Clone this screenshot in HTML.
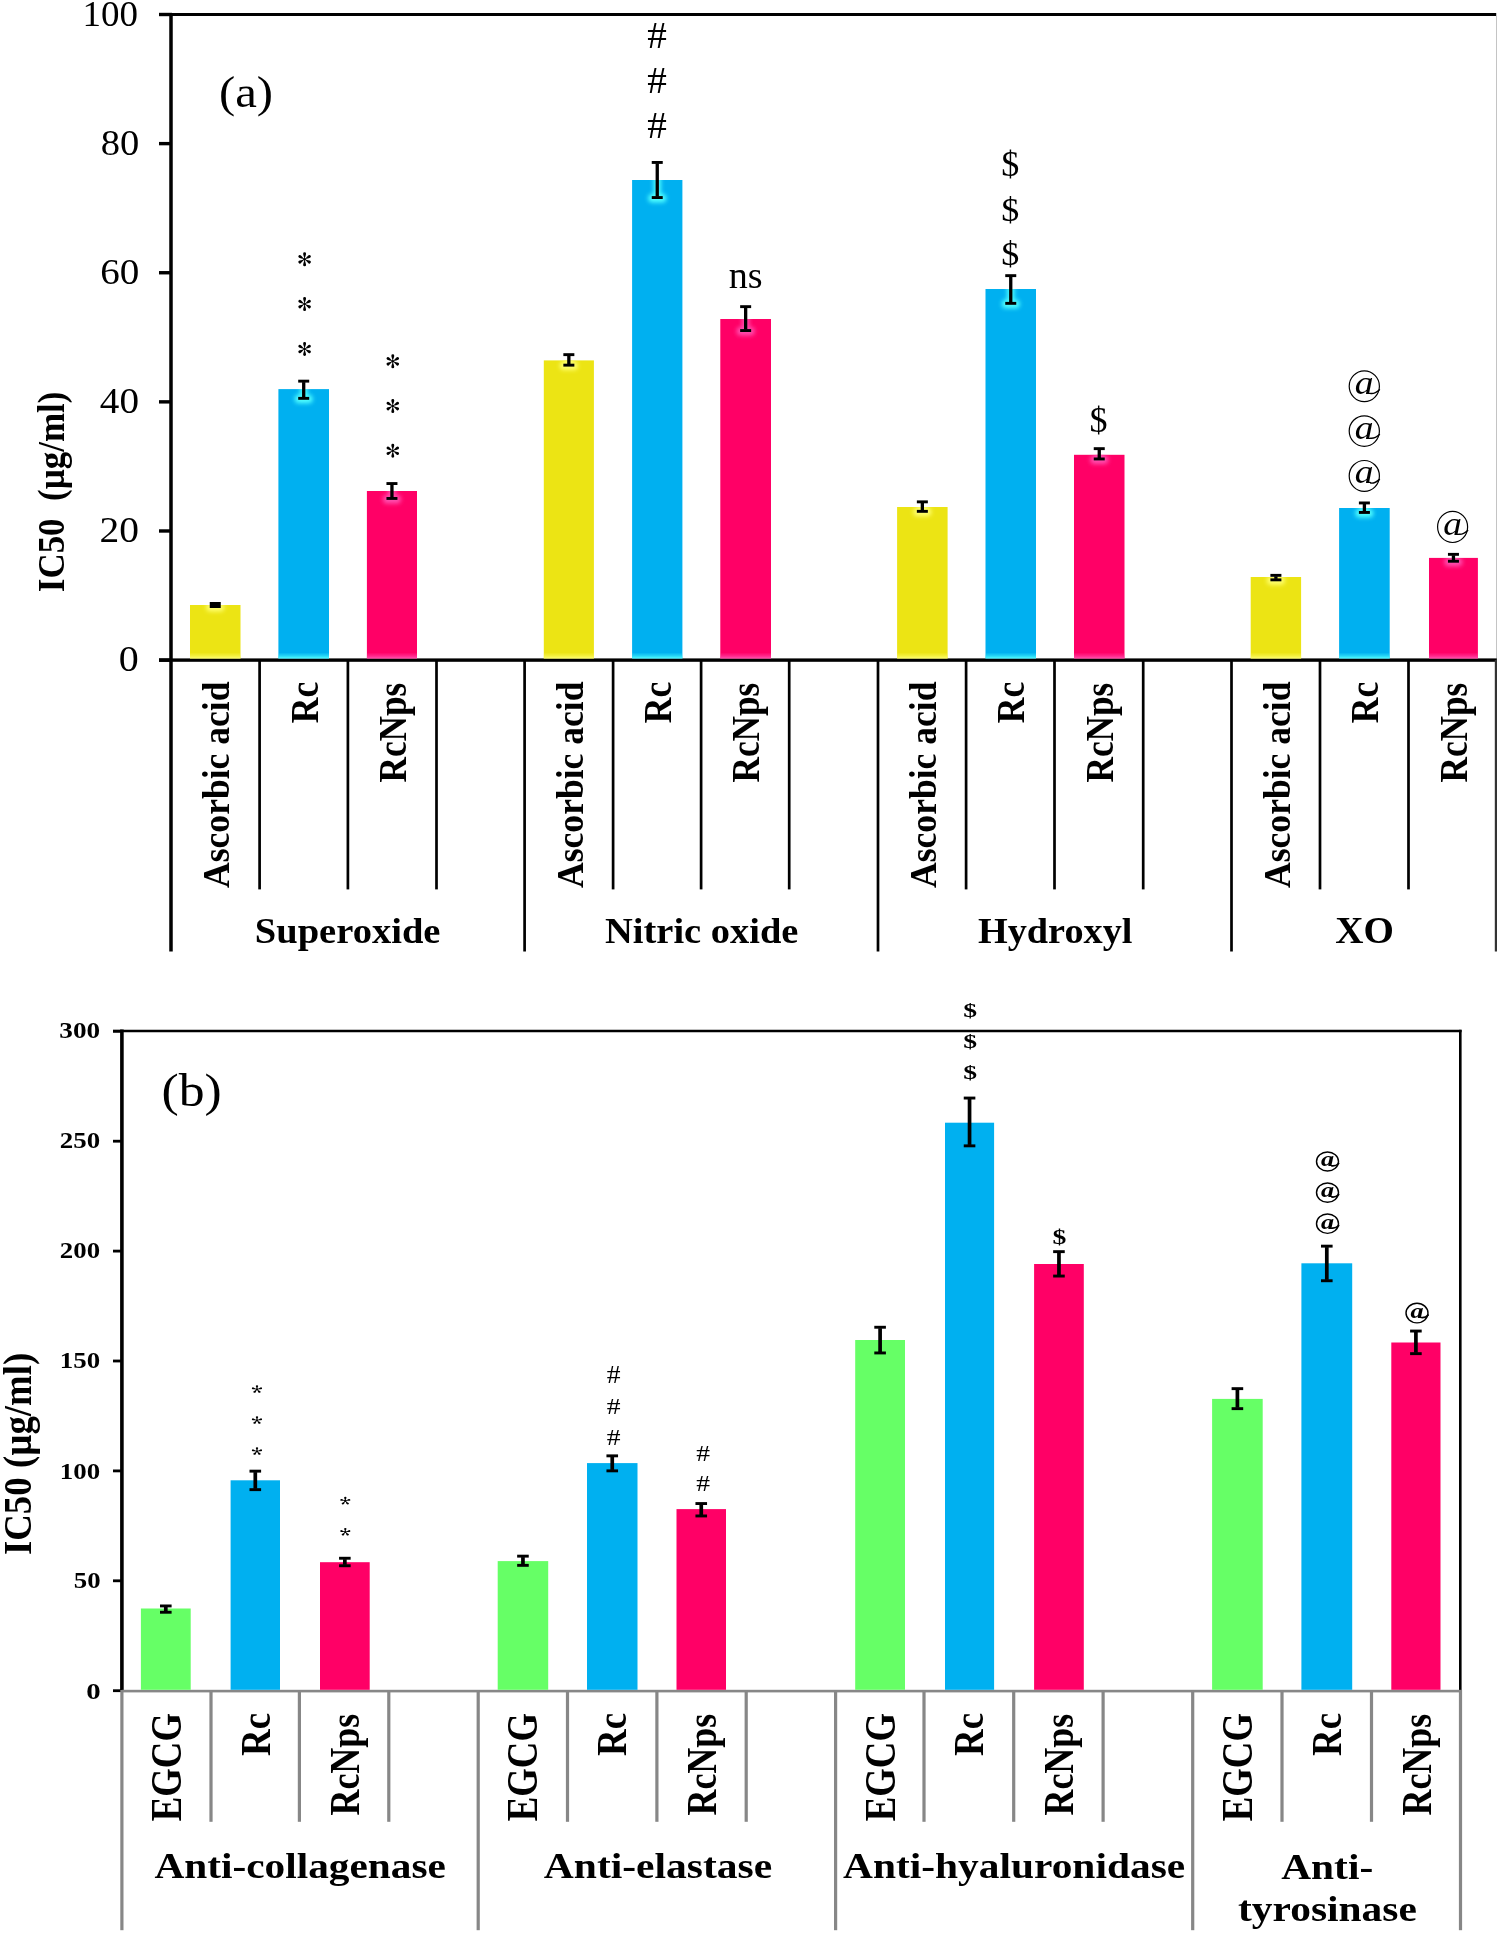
<!DOCTYPE html>
<html><head><meta charset="utf-8"><title>IC50 bar charts</title>
<style>
html,body{margin:0;padding:0;background:#fff;}
svg{display:block;will-change:transform;}
text{font-family:"Liberation Serif", serif;}
</style></head>
<body>
<svg width="1499" height="1934" viewBox="0 0 1499 1934">
<defs><filter id="gl" x="-50%" y="-50%" width="200%" height="200%"><feGaussianBlur stdDeviation="2.1"/></filter><linearGradient id="bg0" x1="0" y1="0" x2="0" y2="1"><stop offset="0" stop-color="#FFFF70" stop-opacity="0"/><stop offset="0.6" stop-color="#FFFF70" stop-opacity="0.5"/><stop offset="1" stop-color="#FFFF70" stop-opacity="1"/></linearGradient><clipPath id="cb0"><rect x="190.00" y="605.00" width="50.50" height="53.40"/></clipPath><linearGradient id="bg1" x1="0" y1="0" x2="0" y2="1"><stop offset="0" stop-color="#50FFFF" stop-opacity="0"/><stop offset="0.6" stop-color="#50FFFF" stop-opacity="0.5"/><stop offset="1" stop-color="#50FFFF" stop-opacity="1"/></linearGradient><clipPath id="cb1"><rect x="278.40" y="389.10" width="50.60" height="269.30"/></clipPath><linearGradient id="bg2" x1="0" y1="0" x2="0" y2="1"><stop offset="0" stop-color="#FF50B0" stop-opacity="0"/><stop offset="0.6" stop-color="#FF50B0" stop-opacity="0.5"/><stop offset="1" stop-color="#FF50B0" stop-opacity="1"/></linearGradient><clipPath id="cb2"><rect x="366.90" y="491.00" width="50.10" height="167.40"/></clipPath><linearGradient id="bg3" x1="0" y1="0" x2="0" y2="1"><stop offset="0" stop-color="#FFFF70" stop-opacity="0"/><stop offset="0.6" stop-color="#FFFF70" stop-opacity="0.5"/><stop offset="1" stop-color="#FFFF70" stop-opacity="1"/></linearGradient><clipPath id="cb3"><rect x="543.80" y="360.40" width="50.10" height="298.00"/></clipPath><linearGradient id="bg4" x1="0" y1="0" x2="0" y2="1"><stop offset="0" stop-color="#50FFFF" stop-opacity="0"/><stop offset="0.6" stop-color="#50FFFF" stop-opacity="0.5"/><stop offset="1" stop-color="#50FFFF" stop-opacity="1"/></linearGradient><clipPath id="cb4"><rect x="632.10" y="180.00" width="50.30" height="478.40"/></clipPath><linearGradient id="bg5" x1="0" y1="0" x2="0" y2="1"><stop offset="0" stop-color="#FF50B0" stop-opacity="0"/><stop offset="0.6" stop-color="#FF50B0" stop-opacity="0.5"/><stop offset="1" stop-color="#FF50B0" stop-opacity="1"/></linearGradient><clipPath id="cb5"><rect x="720.30" y="319.00" width="50.70" height="339.40"/></clipPath><linearGradient id="bg6" x1="0" y1="0" x2="0" y2="1"><stop offset="0" stop-color="#FFFF70" stop-opacity="0"/><stop offset="0.6" stop-color="#FFFF70" stop-opacity="0.5"/><stop offset="1" stop-color="#FFFF70" stop-opacity="1"/></linearGradient><clipPath id="cb6"><rect x="897.10" y="507.00" width="50.50" height="151.40"/></clipPath><linearGradient id="bg7" x1="0" y1="0" x2="0" y2="1"><stop offset="0" stop-color="#50FFFF" stop-opacity="0"/><stop offset="0.6" stop-color="#50FFFF" stop-opacity="0.5"/><stop offset="1" stop-color="#50FFFF" stop-opacity="1"/></linearGradient><clipPath id="cb7"><rect x="985.50" y="289.00" width="50.50" height="369.40"/></clipPath><linearGradient id="bg8" x1="0" y1="0" x2="0" y2="1"><stop offset="0" stop-color="#FF50B0" stop-opacity="0"/><stop offset="0.6" stop-color="#FF50B0" stop-opacity="0.5"/><stop offset="1" stop-color="#FF50B0" stop-opacity="1"/></linearGradient><clipPath id="cb8"><rect x="1074.00" y="454.80" width="50.50" height="203.60"/></clipPath><linearGradient id="bg9" x1="0" y1="0" x2="0" y2="1"><stop offset="0" stop-color="#FFFF70" stop-opacity="0"/><stop offset="0.6" stop-color="#FFFF70" stop-opacity="0.5"/><stop offset="1" stop-color="#FFFF70" stop-opacity="1"/></linearGradient><clipPath id="cb9"><rect x="1250.70" y="577.00" width="50.40" height="81.40"/></clipPath><linearGradient id="bg10" x1="0" y1="0" x2="0" y2="1"><stop offset="0" stop-color="#50FFFF" stop-opacity="0"/><stop offset="0.6" stop-color="#50FFFF" stop-opacity="0.5"/><stop offset="1" stop-color="#50FFFF" stop-opacity="1"/></linearGradient><clipPath id="cb10"><rect x="1339.10" y="508.00" width="50.60" height="150.40"/></clipPath><linearGradient id="bg11" x1="0" y1="0" x2="0" y2="1"><stop offset="0" stop-color="#FF50B0" stop-opacity="0"/><stop offset="0.6" stop-color="#FF50B0" stop-opacity="0.5"/><stop offset="1" stop-color="#FF50B0" stop-opacity="1"/></linearGradient><clipPath id="cb11"><rect x="1429.00" y="557.90" width="48.90" height="100.50"/></clipPath></defs>
<rect x="0" y="0" width="1499" height="1934" fill="#fff"/>
<rect x="159.00" y="13.00" width="1338.00" height="3.00" fill="#000"/>
<rect x="1496.00" y="13.00" width="1.00" height="647.00" fill="#c4c4c4"/>
<rect x="159.00" y="658.40" width="13.00" height="3.40" fill="#000"/>
<rect x="159.00" y="529.28" width="13.00" height="3.40" fill="#000"/>
<rect x="159.00" y="400.16" width="13.00" height="3.40" fill="#000"/>
<rect x="159.00" y="271.04" width="13.00" height="3.40" fill="#000"/>
<rect x="159.00" y="141.92" width="13.00" height="3.40" fill="#000"/>
<rect x="159.00" y="12.80" width="13.00" height="3.40" fill="#000"/>
<rect x="159.00" y="658.40" width="1337.80" height="3.40" fill="#000"/>
<rect x="169.25" y="13.00" width="3.50" height="938.50" fill="#000"/>
<rect x="258.25" y="660.00" width="2.70" height="229.40" fill="#000"/>
<rect x="346.55" y="660.00" width="2.70" height="229.40" fill="#000"/>
<rect x="435.15" y="660.00" width="2.70" height="229.40" fill="#000"/>
<rect x="523.25" y="660.00" width="2.70" height="291.50" fill="#000"/>
<rect x="611.75" y="660.00" width="2.70" height="229.40" fill="#000"/>
<rect x="699.75" y="660.00" width="2.70" height="229.40" fill="#000"/>
<rect x="787.85" y="660.00" width="2.70" height="229.40" fill="#000"/>
<rect x="876.65" y="660.00" width="2.70" height="291.50" fill="#000"/>
<rect x="964.75" y="660.00" width="2.70" height="229.40" fill="#000"/>
<rect x="1053.15" y="660.00" width="2.70" height="229.40" fill="#000"/>
<rect x="1141.85" y="660.00" width="2.70" height="229.40" fill="#000"/>
<rect x="1230.15" y="660.00" width="2.70" height="291.50" fill="#000"/>
<rect x="1318.65" y="660.00" width="2.70" height="229.40" fill="#000"/>
<rect x="1407.15" y="660.00" width="2.70" height="229.40" fill="#000"/>
<rect x="1494.80" y="660.00" width="2.20" height="291.50" fill="#333"/>
<rect x="190.00" y="605.00" width="50.50" height="53.40" fill="#ECE414"/>
<rect x="190.00" y="652.50" width="50.50" height="5.90" fill="url(#bg0)"/>
<g clip-path="url(#cb0)"><g filter="url(#gl)" fill="#FFFF70"><rect x="211.65" y="602.00" width="7.2" height="6.00"/><rect x="206.25" y="603.00" width="18" height="8.5" rx="4"/></g></g>
<rect x="278.40" y="389.10" width="50.60" height="269.30" fill="#00B0F0"/>
<rect x="278.40" y="652.50" width="50.60" height="5.90" fill="url(#bg1)"/>
<g clip-path="url(#cb1)"><g filter="url(#gl)" fill="#50FFFF"><rect x="300.10" y="379.70" width="7.2" height="20.10"/><rect x="294.70" y="394.80" width="18" height="8.5" rx="4"/></g></g>
<rect x="366.90" y="491.00" width="50.10" height="167.40" fill="#FF0066"/>
<rect x="366.90" y="652.50" width="50.10" height="5.90" fill="url(#bg2)"/>
<g clip-path="url(#cb2)"><g filter="url(#gl)" fill="#FF50B0"><rect x="388.35" y="482.10" width="7.2" height="17.80"/><rect x="382.95" y="494.90" width="18" height="8.5" rx="4"/></g></g>
<rect x="543.80" y="360.40" width="50.10" height="298.00" fill="#ECE414"/>
<rect x="543.80" y="652.50" width="50.10" height="5.90" fill="url(#bg3)"/>
<g clip-path="url(#cb3)"><g filter="url(#gl)" fill="#FFFF70"><rect x="565.25" y="353.20" width="7.2" height="13.40"/><rect x="559.85" y="361.60" width="18" height="8.5" rx="4"/></g></g>
<rect x="632.10" y="180.00" width="50.30" height="478.40" fill="#00B0F0"/>
<rect x="632.10" y="652.50" width="50.30" height="5.90" fill="url(#bg4)"/>
<g clip-path="url(#cb4)"><g filter="url(#gl)" fill="#50FFFF"><rect x="653.65" y="161.00" width="7.2" height="38.00"/><rect x="648.25" y="194.00" width="18" height="8.5" rx="4"/></g></g>
<rect x="720.30" y="319.00" width="50.70" height="339.40" fill="#FF0066"/>
<rect x="720.30" y="652.50" width="50.70" height="5.90" fill="url(#bg5)"/>
<g clip-path="url(#cb5)"><g filter="url(#gl)" fill="#FF50B0"><rect x="742.05" y="305.20" width="7.2" height="26.80"/><rect x="736.65" y="327.00" width="18" height="8.5" rx="4"/></g></g>
<rect x="897.10" y="507.00" width="50.50" height="151.40" fill="#ECE414"/>
<rect x="897.10" y="652.50" width="50.50" height="5.90" fill="url(#bg6)"/>
<g clip-path="url(#cb6)"><g filter="url(#gl)" fill="#FFFF70"><rect x="918.75" y="500.40" width="7.2" height="12.40"/><rect x="913.35" y="507.80" width="18" height="8.5" rx="4"/></g></g>
<rect x="985.50" y="289.00" width="50.50" height="369.40" fill="#00B0F0"/>
<rect x="985.50" y="652.50" width="50.50" height="5.90" fill="url(#bg7)"/>
<g clip-path="url(#cb7)"><g filter="url(#gl)" fill="#50FFFF"><rect x="1007.15" y="274.20" width="7.2" height="30.60"/><rect x="1001.75" y="299.80" width="18" height="8.5" rx="4"/></g></g>
<rect x="1074.00" y="454.80" width="50.50" height="203.60" fill="#FF0066"/>
<rect x="1074.00" y="652.50" width="50.50" height="5.90" fill="url(#bg8)"/>
<g clip-path="url(#cb8)"><g filter="url(#gl)" fill="#FF50B0"><rect x="1095.65" y="447.20" width="7.2" height="13.20"/><rect x="1090.25" y="455.40" width="18" height="8.5" rx="4"/></g></g>
<rect x="1250.70" y="577.00" width="50.40" height="81.40" fill="#ECE414"/>
<rect x="1250.70" y="652.50" width="50.40" height="5.90" fill="url(#bg9)"/>
<g clip-path="url(#cb9)"><g filter="url(#gl)" fill="#FFFF70"><rect x="1272.30" y="573.90" width="7.2" height="7.40"/><rect x="1266.90" y="576.30" width="18" height="8.5" rx="4"/></g></g>
<rect x="1339.10" y="508.00" width="50.60" height="150.40" fill="#00B0F0"/>
<rect x="1339.10" y="652.50" width="50.60" height="5.90" fill="url(#bg10)"/>
<g clip-path="url(#cb10)"><g filter="url(#gl)" fill="#50FFFF"><rect x="1360.80" y="501.50" width="7.2" height="12.40"/><rect x="1355.40" y="508.90" width="18" height="8.5" rx="4"/></g></g>
<rect x="1429.00" y="557.90" width="48.90" height="100.50" fill="#FF0066"/>
<rect x="1429.00" y="652.50" width="48.90" height="5.90" fill="url(#bg11)"/>
<g clip-path="url(#cb11)"><g filter="url(#gl)" fill="#FF50B0"><rect x="1449.85" y="552.90" width="7.2" height="9.80"/><rect x="1444.45" y="557.70" width="18" height="8.5" rx="4"/></g></g>
<rect x="209.75" y="602.00" width="11.00" height="6.00" fill="#000"/>
<rect x="298.20" y="379.70" width="11.00" height="2.90" fill="#000"/>
<rect x="298.20" y="396.90" width="11.00" height="2.90" fill="#000"/>
<rect x="302.05" y="382.10" width="3.30" height="15.30" fill="#000"/>
<rect x="386.45" y="482.10" width="11.00" height="2.90" fill="#000"/>
<rect x="386.45" y="497.00" width="11.00" height="2.90" fill="#000"/>
<rect x="390.30" y="484.50" width="3.30" height="13.00" fill="#000"/>
<rect x="563.35" y="353.20" width="11.00" height="2.90" fill="#000"/>
<rect x="563.35" y="363.70" width="11.00" height="2.90" fill="#000"/>
<rect x="567.20" y="355.60" width="3.30" height="8.60" fill="#000"/>
<rect x="651.75" y="161.00" width="11.00" height="2.90" fill="#000"/>
<rect x="651.75" y="196.10" width="11.00" height="2.90" fill="#000"/>
<rect x="655.60" y="163.40" width="3.30" height="33.20" fill="#000"/>
<rect x="740.15" y="305.20" width="11.00" height="2.90" fill="#000"/>
<rect x="740.15" y="329.10" width="11.00" height="2.90" fill="#000"/>
<rect x="744.00" y="307.60" width="3.30" height="22.00" fill="#000"/>
<rect x="916.85" y="500.40" width="11.00" height="2.90" fill="#000"/>
<rect x="916.85" y="509.90" width="11.00" height="2.90" fill="#000"/>
<rect x="920.70" y="502.80" width="3.30" height="7.60" fill="#000"/>
<rect x="1005.25" y="274.20" width="11.00" height="2.90" fill="#000"/>
<rect x="1005.25" y="301.90" width="11.00" height="2.90" fill="#000"/>
<rect x="1009.10" y="276.60" width="3.30" height="25.80" fill="#000"/>
<rect x="1093.75" y="447.20" width="11.00" height="2.90" fill="#000"/>
<rect x="1093.75" y="457.50" width="11.00" height="2.90" fill="#000"/>
<rect x="1097.60" y="449.60" width="3.30" height="8.40" fill="#000"/>
<rect x="1270.40" y="573.90" width="11.00" height="2.90" fill="#000"/>
<rect x="1270.40" y="578.40" width="11.00" height="2.90" fill="#000"/>
<rect x="1274.25" y="576.30" width="3.30" height="2.60" fill="#000"/>
<rect x="1358.90" y="501.50" width="11.00" height="2.90" fill="#000"/>
<rect x="1358.90" y="511.00" width="11.00" height="2.90" fill="#000"/>
<rect x="1362.75" y="503.90" width="3.30" height="7.60" fill="#000"/>
<rect x="1447.95" y="552.90" width="11.00" height="2.90" fill="#000"/>
<rect x="1447.95" y="559.80" width="11.00" height="2.90" fill="#000"/>
<rect x="1451.80" y="555.30" width="3.30" height="5.00" fill="#000"/>
<rect x="113.00" y="1029.75" width="1348.60" height="2.50" fill="#000"/>
<rect x="1459.00" y="1029.80" width="2.60" height="661.20" fill="#000"/>
<rect x="120.10" y="1029.50" width="3.60" height="661.00" fill="#000"/>
<rect x="113.00" y="1689.30" width="9.00" height="2.80" fill="#000"/>
<rect x="113.00" y="1579.40" width="9.00" height="2.80" fill="#000"/>
<rect x="113.00" y="1469.50" width="9.00" height="2.80" fill="#000"/>
<rect x="113.00" y="1359.60" width="9.00" height="2.80" fill="#000"/>
<rect x="113.00" y="1249.70" width="9.00" height="2.80" fill="#000"/>
<rect x="113.00" y="1139.80" width="9.00" height="2.80" fill="#000"/>
<rect x="113.00" y="1029.90" width="9.00" height="2.80" fill="#000"/>
<rect x="121.90" y="1689.80" width="1339.60" height="2.60" fill="#878787"/>
<rect x="120.30" y="1690.00" width="3.20" height="240.20" fill="#878787"/>
<rect x="209.40" y="1690.00" width="3.20" height="131.80" fill="#878787"/>
<rect x="297.80" y="1690.00" width="3.20" height="131.80" fill="#878787"/>
<rect x="387.20" y="1690.00" width="3.20" height="131.80" fill="#878787"/>
<rect x="476.60" y="1690.00" width="3.20" height="240.20" fill="#878787"/>
<rect x="565.90" y="1690.00" width="3.20" height="131.80" fill="#878787"/>
<rect x="655.30" y="1690.00" width="3.20" height="131.80" fill="#878787"/>
<rect x="744.60" y="1690.00" width="3.20" height="131.80" fill="#878787"/>
<rect x="834.00" y="1690.00" width="3.20" height="240.20" fill="#878787"/>
<rect x="922.40" y="1690.00" width="3.20" height="131.80" fill="#878787"/>
<rect x="1012.10" y="1690.00" width="3.20" height="131.80" fill="#878787"/>
<rect x="1101.50" y="1690.00" width="3.20" height="131.80" fill="#878787"/>
<rect x="1191.10" y="1690.00" width="3.20" height="240.20" fill="#878787"/>
<rect x="1280.40" y="1690.00" width="3.20" height="131.80" fill="#878787"/>
<rect x="1369.90" y="1690.00" width="3.20" height="131.80" fill="#878787"/>
<rect x="1458.90" y="1690.00" width="3.20" height="240.20" fill="#878787"/>
<rect x="140.90" y="1608.50" width="49.80" height="81.30" fill="#66FF66"/>
<rect x="230.60" y="1480.30" width="49.40" height="209.50" fill="#00B0F0"/>
<rect x="320.00" y="1562.20" width="49.70" height="127.60" fill="#FF0066"/>
<rect x="497.70" y="1561.10" width="50.50" height="128.70" fill="#66FF66"/>
<rect x="587.00" y="1463.10" width="50.50" height="226.70" fill="#00B0F0"/>
<rect x="676.50" y="1509.10" width="49.50" height="180.70" fill="#FF0066"/>
<rect x="855.20" y="1340.00" width="49.80" height="349.80" fill="#66FF66"/>
<rect x="945.00" y="1122.70" width="49.10" height="567.10" fill="#00B0F0"/>
<rect x="1034.10" y="1264.00" width="49.70" height="425.80" fill="#FF0066"/>
<rect x="1212.10" y="1398.90" width="50.60" height="290.90" fill="#66FF66"/>
<rect x="1301.40" y="1263.30" width="50.80" height="426.50" fill="#00B0F0"/>
<rect x="1391.30" y="1342.50" width="49.20" height="347.30" fill="#FF0066"/>
<rect x="160.00" y="1604.50" width="11.60" height="2.90" fill="#000"/>
<rect x="160.00" y="1610.80" width="11.60" height="2.90" fill="#000"/>
<rect x="163.95" y="1606.90" width="3.70" height="4.40" fill="#000"/>
<rect x="249.50" y="1469.70" width="11.60" height="2.90" fill="#000"/>
<rect x="249.50" y="1488.20" width="11.60" height="2.90" fill="#000"/>
<rect x="253.45" y="1472.10" width="3.70" height="16.60" fill="#000"/>
<rect x="339.05" y="1556.80" width="11.60" height="2.90" fill="#000"/>
<rect x="339.05" y="1564.30" width="11.60" height="2.90" fill="#000"/>
<rect x="343.00" y="1559.20" width="3.70" height="5.60" fill="#000"/>
<rect x="517.15" y="1554.70" width="11.60" height="2.90" fill="#000"/>
<rect x="517.15" y="1563.90" width="11.60" height="2.90" fill="#000"/>
<rect x="521.10" y="1557.10" width="3.70" height="7.30" fill="#000"/>
<rect x="606.45" y="1454.40" width="11.60" height="2.90" fill="#000"/>
<rect x="606.45" y="1469.40" width="11.60" height="2.90" fill="#000"/>
<rect x="610.40" y="1456.80" width="3.70" height="13.10" fill="#000"/>
<rect x="695.45" y="1502.10" width="11.60" height="2.90" fill="#000"/>
<rect x="695.45" y="1514.50" width="11.60" height="2.90" fill="#000"/>
<rect x="699.40" y="1504.50" width="3.70" height="10.50" fill="#000"/>
<rect x="874.30" y="1325.80" width="11.60" height="2.90" fill="#000"/>
<rect x="874.30" y="1351.50" width="11.60" height="2.90" fill="#000"/>
<rect x="878.25" y="1328.20" width="3.70" height="23.80" fill="#000"/>
<rect x="963.75" y="1096.60" width="11.60" height="2.90" fill="#000"/>
<rect x="963.75" y="1144.40" width="11.60" height="2.90" fill="#000"/>
<rect x="967.70" y="1099.00" width="3.70" height="45.90" fill="#000"/>
<rect x="1053.15" y="1250.20" width="11.60" height="2.90" fill="#000"/>
<rect x="1053.15" y="1274.60" width="11.60" height="2.90" fill="#000"/>
<rect x="1057.10" y="1252.60" width="3.70" height="22.50" fill="#000"/>
<rect x="1231.60" y="1387.20" width="11.60" height="2.90" fill="#000"/>
<rect x="1231.60" y="1407.20" width="11.60" height="2.90" fill="#000"/>
<rect x="1235.55" y="1389.60" width="3.70" height="18.10" fill="#000"/>
<rect x="1321.00" y="1244.70" width="11.60" height="2.90" fill="#000"/>
<rect x="1321.00" y="1279.30" width="11.60" height="2.90" fill="#000"/>
<rect x="1324.95" y="1247.10" width="3.70" height="32.70" fill="#000"/>
<rect x="1410.10" y="1329.60" width="11.60" height="2.90" fill="#000"/>
<rect x="1410.10" y="1352.20" width="11.60" height="2.90" fill="#000"/>
<rect x="1414.05" y="1332.00" width="3.70" height="20.70" fill="#000"/>
<circle cx="304.60" cy="259.35" r="1.3" fill="#000"/>
<path d="M0,0 C-0.51,-2.45 -1.45,-4.68 -1.45,-5.55 A1.45,1.45 0 0 1 1.45,-5.55 C1.45,-4.68 0.51,-2.45 0,0 Z" transform="translate(304.60,259.35) rotate(0)" fill="#000"/>
<path d="M0,0 C-0.51,-2.45 -1.45,-4.68 -1.45,-5.55 A1.45,1.45 0 0 1 1.45,-5.55 C1.45,-4.68 0.51,-2.45 0,0 Z" transform="translate(304.60,259.35) rotate(60)" fill="#000"/>
<path d="M0,0 C-0.51,-2.45 -1.45,-4.68 -1.45,-5.55 A1.45,1.45 0 0 1 1.45,-5.55 C1.45,-4.68 0.51,-2.45 0,0 Z" transform="translate(304.60,259.35) rotate(120)" fill="#000"/>
<path d="M0,0 C-0.51,-2.45 -1.45,-4.68 -1.45,-5.55 A1.45,1.45 0 0 1 1.45,-5.55 C1.45,-4.68 0.51,-2.45 0,0 Z" transform="translate(304.60,259.35) rotate(180)" fill="#000"/>
<path d="M0,0 C-0.51,-2.45 -1.45,-4.68 -1.45,-5.55 A1.45,1.45 0 0 1 1.45,-5.55 C1.45,-4.68 0.51,-2.45 0,0 Z" transform="translate(304.60,259.35) rotate(240)" fill="#000"/>
<path d="M0,0 C-0.51,-2.45 -1.45,-4.68 -1.45,-5.55 A1.45,1.45 0 0 1 1.45,-5.55 C1.45,-4.68 0.51,-2.45 0,0 Z" transform="translate(304.60,259.35) rotate(300)" fill="#000"/>
<circle cx="304.60" cy="304.10" r="1.3" fill="#000"/>
<path d="M0,0 C-0.51,-2.45 -1.45,-4.68 -1.45,-5.55 A1.45,1.45 0 0 1 1.45,-5.55 C1.45,-4.68 0.51,-2.45 0,0 Z" transform="translate(304.60,304.10) rotate(0)" fill="#000"/>
<path d="M0,0 C-0.51,-2.45 -1.45,-4.68 -1.45,-5.55 A1.45,1.45 0 0 1 1.45,-5.55 C1.45,-4.68 0.51,-2.45 0,0 Z" transform="translate(304.60,304.10) rotate(60)" fill="#000"/>
<path d="M0,0 C-0.51,-2.45 -1.45,-4.68 -1.45,-5.55 A1.45,1.45 0 0 1 1.45,-5.55 C1.45,-4.68 0.51,-2.45 0,0 Z" transform="translate(304.60,304.10) rotate(120)" fill="#000"/>
<path d="M0,0 C-0.51,-2.45 -1.45,-4.68 -1.45,-5.55 A1.45,1.45 0 0 1 1.45,-5.55 C1.45,-4.68 0.51,-2.45 0,0 Z" transform="translate(304.60,304.10) rotate(180)" fill="#000"/>
<path d="M0,0 C-0.51,-2.45 -1.45,-4.68 -1.45,-5.55 A1.45,1.45 0 0 1 1.45,-5.55 C1.45,-4.68 0.51,-2.45 0,0 Z" transform="translate(304.60,304.10) rotate(240)" fill="#000"/>
<path d="M0,0 C-0.51,-2.45 -1.45,-4.68 -1.45,-5.55 A1.45,1.45 0 0 1 1.45,-5.55 C1.45,-4.68 0.51,-2.45 0,0 Z" transform="translate(304.60,304.10) rotate(300)" fill="#000"/>
<circle cx="304.60" cy="348.95" r="1.3" fill="#000"/>
<path d="M0,0 C-0.51,-2.45 -1.45,-4.68 -1.45,-5.55 A1.45,1.45 0 0 1 1.45,-5.55 C1.45,-4.68 0.51,-2.45 0,0 Z" transform="translate(304.60,348.95) rotate(0)" fill="#000"/>
<path d="M0,0 C-0.51,-2.45 -1.45,-4.68 -1.45,-5.55 A1.45,1.45 0 0 1 1.45,-5.55 C1.45,-4.68 0.51,-2.45 0,0 Z" transform="translate(304.60,348.95) rotate(60)" fill="#000"/>
<path d="M0,0 C-0.51,-2.45 -1.45,-4.68 -1.45,-5.55 A1.45,1.45 0 0 1 1.45,-5.55 C1.45,-4.68 0.51,-2.45 0,0 Z" transform="translate(304.60,348.95) rotate(120)" fill="#000"/>
<path d="M0,0 C-0.51,-2.45 -1.45,-4.68 -1.45,-5.55 A1.45,1.45 0 0 1 1.45,-5.55 C1.45,-4.68 0.51,-2.45 0,0 Z" transform="translate(304.60,348.95) rotate(180)" fill="#000"/>
<path d="M0,0 C-0.51,-2.45 -1.45,-4.68 -1.45,-5.55 A1.45,1.45 0 0 1 1.45,-5.55 C1.45,-4.68 0.51,-2.45 0,0 Z" transform="translate(304.60,348.95) rotate(240)" fill="#000"/>
<path d="M0,0 C-0.51,-2.45 -1.45,-4.68 -1.45,-5.55 A1.45,1.45 0 0 1 1.45,-5.55 C1.45,-4.68 0.51,-2.45 0,0 Z" transform="translate(304.60,348.95) rotate(300)" fill="#000"/>
<circle cx="392.80" cy="361.35" r="1.3" fill="#000"/>
<path d="M0,0 C-0.51,-2.45 -1.45,-4.68 -1.45,-5.55 A1.45,1.45 0 0 1 1.45,-5.55 C1.45,-4.68 0.51,-2.45 0,0 Z" transform="translate(392.80,361.35) rotate(0)" fill="#000"/>
<path d="M0,0 C-0.51,-2.45 -1.45,-4.68 -1.45,-5.55 A1.45,1.45 0 0 1 1.45,-5.55 C1.45,-4.68 0.51,-2.45 0,0 Z" transform="translate(392.80,361.35) rotate(60)" fill="#000"/>
<path d="M0,0 C-0.51,-2.45 -1.45,-4.68 -1.45,-5.55 A1.45,1.45 0 0 1 1.45,-5.55 C1.45,-4.68 0.51,-2.45 0,0 Z" transform="translate(392.80,361.35) rotate(120)" fill="#000"/>
<path d="M0,0 C-0.51,-2.45 -1.45,-4.68 -1.45,-5.55 A1.45,1.45 0 0 1 1.45,-5.55 C1.45,-4.68 0.51,-2.45 0,0 Z" transform="translate(392.80,361.35) rotate(180)" fill="#000"/>
<path d="M0,0 C-0.51,-2.45 -1.45,-4.68 -1.45,-5.55 A1.45,1.45 0 0 1 1.45,-5.55 C1.45,-4.68 0.51,-2.45 0,0 Z" transform="translate(392.80,361.35) rotate(240)" fill="#000"/>
<path d="M0,0 C-0.51,-2.45 -1.45,-4.68 -1.45,-5.55 A1.45,1.45 0 0 1 1.45,-5.55 C1.45,-4.68 0.51,-2.45 0,0 Z" transform="translate(392.80,361.35) rotate(300)" fill="#000"/>
<circle cx="392.80" cy="406.10" r="1.3" fill="#000"/>
<path d="M0,0 C-0.51,-2.45 -1.45,-4.68 -1.45,-5.55 A1.45,1.45 0 0 1 1.45,-5.55 C1.45,-4.68 0.51,-2.45 0,0 Z" transform="translate(392.80,406.10) rotate(0)" fill="#000"/>
<path d="M0,0 C-0.51,-2.45 -1.45,-4.68 -1.45,-5.55 A1.45,1.45 0 0 1 1.45,-5.55 C1.45,-4.68 0.51,-2.45 0,0 Z" transform="translate(392.80,406.10) rotate(60)" fill="#000"/>
<path d="M0,0 C-0.51,-2.45 -1.45,-4.68 -1.45,-5.55 A1.45,1.45 0 0 1 1.45,-5.55 C1.45,-4.68 0.51,-2.45 0,0 Z" transform="translate(392.80,406.10) rotate(120)" fill="#000"/>
<path d="M0,0 C-0.51,-2.45 -1.45,-4.68 -1.45,-5.55 A1.45,1.45 0 0 1 1.45,-5.55 C1.45,-4.68 0.51,-2.45 0,0 Z" transform="translate(392.80,406.10) rotate(180)" fill="#000"/>
<path d="M0,0 C-0.51,-2.45 -1.45,-4.68 -1.45,-5.55 A1.45,1.45 0 0 1 1.45,-5.55 C1.45,-4.68 0.51,-2.45 0,0 Z" transform="translate(392.80,406.10) rotate(240)" fill="#000"/>
<path d="M0,0 C-0.51,-2.45 -1.45,-4.68 -1.45,-5.55 A1.45,1.45 0 0 1 1.45,-5.55 C1.45,-4.68 0.51,-2.45 0,0 Z" transform="translate(392.80,406.10) rotate(300)" fill="#000"/>
<circle cx="392.80" cy="450.75" r="1.3" fill="#000"/>
<path d="M0,0 C-0.51,-2.45 -1.45,-4.68 -1.45,-5.55 A1.45,1.45 0 0 1 1.45,-5.55 C1.45,-4.68 0.51,-2.45 0,0 Z" transform="translate(392.80,450.75) rotate(0)" fill="#000"/>
<path d="M0,0 C-0.51,-2.45 -1.45,-4.68 -1.45,-5.55 A1.45,1.45 0 0 1 1.45,-5.55 C1.45,-4.68 0.51,-2.45 0,0 Z" transform="translate(392.80,450.75) rotate(60)" fill="#000"/>
<path d="M0,0 C-0.51,-2.45 -1.45,-4.68 -1.45,-5.55 A1.45,1.45 0 0 1 1.45,-5.55 C1.45,-4.68 0.51,-2.45 0,0 Z" transform="translate(392.80,450.75) rotate(120)" fill="#000"/>
<path d="M0,0 C-0.51,-2.45 -1.45,-4.68 -1.45,-5.55 A1.45,1.45 0 0 1 1.45,-5.55 C1.45,-4.68 0.51,-2.45 0,0 Z" transform="translate(392.80,450.75) rotate(180)" fill="#000"/>
<path d="M0,0 C-0.51,-2.45 -1.45,-4.68 -1.45,-5.55 A1.45,1.45 0 0 1 1.45,-5.55 C1.45,-4.68 0.51,-2.45 0,0 Z" transform="translate(392.80,450.75) rotate(240)" fill="#000"/>
<path d="M0,0 C-0.51,-2.45 -1.45,-4.68 -1.45,-5.55 A1.45,1.45 0 0 1 1.45,-5.55 C1.45,-4.68 0.51,-2.45 0,0 Z" transform="translate(392.80,450.75) rotate(300)" fill="#000"/>
<ellipse cx="1364.30" cy="386.30" rx="15.10" ry="15.40" fill="none" stroke="#000" stroke-width="1.2"/>
<path d="M1370.65,393.44 Q1374.83,393.94 1379.48,389.70" fill="none" stroke="#000" stroke-width="1.40" stroke-linecap="round"/>
<ellipse cx="1364.30" cy="431.10" rx="15.10" ry="15.30" fill="none" stroke="#000" stroke-width="1.2"/>
<path d="M1370.65,438.19 Q1374.83,438.69 1379.48,434.48" fill="none" stroke="#000" stroke-width="1.40" stroke-linecap="round"/>
<ellipse cx="1364.30" cy="475.95" rx="15.10" ry="15.45" fill="none" stroke="#000" stroke-width="1.2"/>
<path d="M1370.65,483.11 Q1374.83,483.61 1379.48,479.36" fill="none" stroke="#000" stroke-width="1.40" stroke-linecap="round"/>
<ellipse cx="1452.60" cy="526.95" rx="15.00" ry="15.55" fill="none" stroke="#000" stroke-width="1.2"/>
<path d="M1458.90,534.16 Q1463.07,534.66 1467.69,530.39" fill="none" stroke="#000" stroke-width="1.40" stroke-linecap="round"/>
<g transform="translate(257.00,1389.30) scale(1.08,0.84)"><circle r="1.3" fill="#000"/>
<path d="M0,0 C-0.39,-1.72 -1.10,-3.14 -1.10,-3.80 A1.10,1.10 0 0 1 1.10,-3.80 C1.10,-3.14 0.39,-1.72 0,0 Z" transform="rotate(0)" fill="#000"/>
<path d="M0,0 C-0.39,-1.72 -1.10,-3.14 -1.10,-3.80 A1.10,1.10 0 0 1 1.10,-3.80 C1.10,-3.14 0.39,-1.72 0,0 Z" transform="rotate(72)" fill="#000"/>
<path d="M0,0 C-0.39,-1.72 -1.10,-3.14 -1.10,-3.80 A1.10,1.10 0 0 1 1.10,-3.80 C1.10,-3.14 0.39,-1.72 0,0 Z" transform="rotate(144)" fill="#000"/>
<path d="M0,0 C-0.39,-1.72 -1.10,-3.14 -1.10,-3.80 A1.10,1.10 0 0 1 1.10,-3.80 C1.10,-3.14 0.39,-1.72 0,0 Z" transform="rotate(216)" fill="#000"/>
<path d="M0,0 C-0.39,-1.72 -1.10,-3.14 -1.10,-3.80 A1.10,1.10 0 0 1 1.10,-3.80 C1.10,-3.14 0.39,-1.72 0,0 Z" transform="rotate(288)" fill="#000"/>
</g>
<g transform="translate(257.00,1420.30) scale(1.08,0.84)"><circle r="1.3" fill="#000"/>
<path d="M0,0 C-0.39,-1.72 -1.10,-3.14 -1.10,-3.80 A1.10,1.10 0 0 1 1.10,-3.80 C1.10,-3.14 0.39,-1.72 0,0 Z" transform="rotate(0)" fill="#000"/>
<path d="M0,0 C-0.39,-1.72 -1.10,-3.14 -1.10,-3.80 A1.10,1.10 0 0 1 1.10,-3.80 C1.10,-3.14 0.39,-1.72 0,0 Z" transform="rotate(72)" fill="#000"/>
<path d="M0,0 C-0.39,-1.72 -1.10,-3.14 -1.10,-3.80 A1.10,1.10 0 0 1 1.10,-3.80 C1.10,-3.14 0.39,-1.72 0,0 Z" transform="rotate(144)" fill="#000"/>
<path d="M0,0 C-0.39,-1.72 -1.10,-3.14 -1.10,-3.80 A1.10,1.10 0 0 1 1.10,-3.80 C1.10,-3.14 0.39,-1.72 0,0 Z" transform="rotate(216)" fill="#000"/>
<path d="M0,0 C-0.39,-1.72 -1.10,-3.14 -1.10,-3.80 A1.10,1.10 0 0 1 1.10,-3.80 C1.10,-3.14 0.39,-1.72 0,0 Z" transform="rotate(288)" fill="#000"/>
</g>
<g transform="translate(257.00,1451.30) scale(1.08,0.84)"><circle r="1.3" fill="#000"/>
<path d="M0,0 C-0.39,-1.72 -1.10,-3.14 -1.10,-3.80 A1.10,1.10 0 0 1 1.10,-3.80 C1.10,-3.14 0.39,-1.72 0,0 Z" transform="rotate(0)" fill="#000"/>
<path d="M0,0 C-0.39,-1.72 -1.10,-3.14 -1.10,-3.80 A1.10,1.10 0 0 1 1.10,-3.80 C1.10,-3.14 0.39,-1.72 0,0 Z" transform="rotate(72)" fill="#000"/>
<path d="M0,0 C-0.39,-1.72 -1.10,-3.14 -1.10,-3.80 A1.10,1.10 0 0 1 1.10,-3.80 C1.10,-3.14 0.39,-1.72 0,0 Z" transform="rotate(144)" fill="#000"/>
<path d="M0,0 C-0.39,-1.72 -1.10,-3.14 -1.10,-3.80 A1.10,1.10 0 0 1 1.10,-3.80 C1.10,-3.14 0.39,-1.72 0,0 Z" transform="rotate(216)" fill="#000"/>
<path d="M0,0 C-0.39,-1.72 -1.10,-3.14 -1.10,-3.80 A1.10,1.10 0 0 1 1.10,-3.80 C1.10,-3.14 0.39,-1.72 0,0 Z" transform="rotate(288)" fill="#000"/>
</g>
<g transform="translate(345.30,1500.90) scale(1.08,0.84)"><circle r="1.3" fill="#000"/>
<path d="M0,0 C-0.39,-1.72 -1.10,-3.14 -1.10,-3.80 A1.10,1.10 0 0 1 1.10,-3.80 C1.10,-3.14 0.39,-1.72 0,0 Z" transform="rotate(0)" fill="#000"/>
<path d="M0,0 C-0.39,-1.72 -1.10,-3.14 -1.10,-3.80 A1.10,1.10 0 0 1 1.10,-3.80 C1.10,-3.14 0.39,-1.72 0,0 Z" transform="rotate(72)" fill="#000"/>
<path d="M0,0 C-0.39,-1.72 -1.10,-3.14 -1.10,-3.80 A1.10,1.10 0 0 1 1.10,-3.80 C1.10,-3.14 0.39,-1.72 0,0 Z" transform="rotate(144)" fill="#000"/>
<path d="M0,0 C-0.39,-1.72 -1.10,-3.14 -1.10,-3.80 A1.10,1.10 0 0 1 1.10,-3.80 C1.10,-3.14 0.39,-1.72 0,0 Z" transform="rotate(216)" fill="#000"/>
<path d="M0,0 C-0.39,-1.72 -1.10,-3.14 -1.10,-3.80 A1.10,1.10 0 0 1 1.10,-3.80 C1.10,-3.14 0.39,-1.72 0,0 Z" transform="rotate(288)" fill="#000"/>
</g>
<g transform="translate(345.30,1532.00) scale(1.08,0.84)"><circle r="1.3" fill="#000"/>
<path d="M0,0 C-0.39,-1.72 -1.10,-3.14 -1.10,-3.80 A1.10,1.10 0 0 1 1.10,-3.80 C1.10,-3.14 0.39,-1.72 0,0 Z" transform="rotate(0)" fill="#000"/>
<path d="M0,0 C-0.39,-1.72 -1.10,-3.14 -1.10,-3.80 A1.10,1.10 0 0 1 1.10,-3.80 C1.10,-3.14 0.39,-1.72 0,0 Z" transform="rotate(72)" fill="#000"/>
<path d="M0,0 C-0.39,-1.72 -1.10,-3.14 -1.10,-3.80 A1.10,1.10 0 0 1 1.10,-3.80 C1.10,-3.14 0.39,-1.72 0,0 Z" transform="rotate(144)" fill="#000"/>
<path d="M0,0 C-0.39,-1.72 -1.10,-3.14 -1.10,-3.80 A1.10,1.10 0 0 1 1.10,-3.80 C1.10,-3.14 0.39,-1.72 0,0 Z" transform="rotate(216)" fill="#000"/>
<path d="M0,0 C-0.39,-1.72 -1.10,-3.14 -1.10,-3.80 A1.10,1.10 0 0 1 1.10,-3.80 C1.10,-3.14 0.39,-1.72 0,0 Z" transform="rotate(288)" fill="#000"/>
</g>
<ellipse cx="1327.50" cy="1161.55" rx="10.98" ry="9.53" fill="none" stroke="#000" stroke-width="1.45"/>
<path d="M1331.85,1165.87 Q1335.53,1166.37 1338.67,1163.51" fill="none" stroke="#000" stroke-width="1.65" stroke-linecap="round"/>
<ellipse cx="1327.50" cy="1192.60" rx="10.98" ry="9.67" fill="none" stroke="#000" stroke-width="1.45"/>
<path d="M1331.85,1197.00 Q1335.53,1197.50 1338.67,1194.60" fill="none" stroke="#000" stroke-width="1.65" stroke-linecap="round"/>
<ellipse cx="1327.50" cy="1223.65" rx="10.98" ry="9.72" fill="none" stroke="#000" stroke-width="1.45"/>
<path d="M1331.85,1228.07 Q1335.53,1228.57 1338.67,1225.66" fill="none" stroke="#000" stroke-width="1.65" stroke-linecap="round"/>
<ellipse cx="1417.00" cy="1313.05" rx="10.98" ry="9.82" fill="none" stroke="#000" stroke-width="1.45"/>
<path d="M1421.35,1317.52 Q1425.03,1318.02 1428.17,1315.09" fill="none" stroke="#000" stroke-width="1.65" stroke-linecap="round"/>
<text transform="matrix(0.37044,0.00000,0.00000,0.35735,82.51606,25.78529)" font-size="100" fill="#000" xml:space="preserve">100</text>
<text transform="matrix(0.38587,0.00000,0.00000,0.36567,100.65652,155.16866)" font-size="100" fill="#000" xml:space="preserve">80</text>
<text transform="matrix(0.39130,0.00000,0.00000,0.36716,100.13478,284.16567)" font-size="100" fill="#000" xml:space="preserve">60</text>
<text transform="matrix(0.39149,0.00000,0.00000,0.36269,99.81702,413.07463)" font-size="100" fill="#000" xml:space="preserve">40</text>
<text transform="matrix(0.39457,0.00000,0.00000,0.36269,99.52174,542.17463)" font-size="100" fill="#000" xml:space="preserve">20</text>
<text transform="matrix(0.40000,0.00000,0.00000,0.35970,118.80000,671.28060)" font-size="100" fill="#000" xml:space="preserve">0</text>
<text transform="matrix(0.48738,0.00000,0.00000,0.45111,218.95049,107.32667)" font-size="100" fill="#000" xml:space="preserve">(a)</text>
<text transform="matrix(0.00000,-0.34921,0.37000,0.00000,63.63000,592.14762)" font-size="100" font-weight="bold" fill="#000" xml:space="preserve">IC50  (µg/ml)</text>
<text transform="matrix(0.00000,-0.35571,0.38000,0.00000,229.32000,887.95571)" font-size="100" font-weight="bold" fill="#000" xml:space="preserve">Ascorbic acid</text>
<text transform="matrix(0.00000,-0.35625,0.39545,0.00000,317.80455,723.21250)" font-size="100" font-weight="bold" fill="#000" xml:space="preserve">Rc</text>
<text transform="matrix(0.00000,-0.35197,0.39535,0.00000,406.09767,782.40394)" font-size="100" font-weight="bold" fill="#000" xml:space="preserve">RcNps</text>
<text transform="matrix(0.00000,-0.35571,0.38000,0.00000,582.92000,887.95571)" font-size="100" font-weight="bold" fill="#000" xml:space="preserve">Ascorbic acid</text>
<text transform="matrix(0.00000,-0.35625,0.39545,0.00000,671.30455,723.21250)" font-size="100" font-weight="bold" fill="#000" xml:space="preserve">Rc</text>
<text transform="matrix(0.00000,-0.35197,0.39535,0.00000,759.29767,782.40394)" font-size="100" font-weight="bold" fill="#000" xml:space="preserve">RcNps</text>
<text transform="matrix(0.00000,-0.35571,0.38000,0.00000,936.32000,887.95571)" font-size="100" font-weight="bold" fill="#000" xml:space="preserve">Ascorbic acid</text>
<text transform="matrix(0.00000,-0.35625,0.39545,0.00000,1024.30455,723.21250)" font-size="100" font-weight="bold" fill="#000" xml:space="preserve">Rc</text>
<text transform="matrix(0.00000,-0.35197,0.39535,0.00000,1112.69767,782.40394)" font-size="100" font-weight="bold" fill="#000" xml:space="preserve">RcNps</text>
<text transform="matrix(0.00000,-0.35571,0.38000,0.00000,1289.82000,887.95571)" font-size="100" font-weight="bold" fill="#000" xml:space="preserve">Ascorbic acid</text>
<text transform="matrix(0.00000,-0.35625,0.39545,0.00000,1378.20455,723.21250)" font-size="100" font-weight="bold" fill="#000" xml:space="preserve">Rc</text>
<text transform="matrix(0.00000,-0.35197,0.39535,0.00000,1466.69767,782.40394)" font-size="100" font-weight="bold" fill="#000" xml:space="preserve">RcNps</text>
<text transform="matrix(0.38565,0.00000,0.00000,0.35222,254.77173,943.30333)" font-size="100" font-weight="bold" fill="#000" xml:space="preserve">Superoxide</text>
<text transform="matrix(0.38494,0.00000,0.00000,0.35143,605.03012,943.34857)" font-size="100" font-weight="bold" fill="#000" xml:space="preserve">Nitric oxide</text>
<text transform="matrix(0.38275,0.00000,0.00000,0.34889,977.93450,943.07333)" font-size="100" font-weight="bold" fill="#000" xml:space="preserve">Hydroxyl</text>
<text transform="matrix(0.39091,0.00000,0.00000,0.36866,1335.21818,942.96269)" font-size="100" font-weight="bold" fill="#000" xml:space="preserve">XO</text>
<text transform="matrix(0.39130,0.00000,0.00000,0.37231,647.21739,47.90000)" font-size="100" fill="#000" xml:space="preserve">#</text>
<text transform="matrix(0.39130,0.00000,0.00000,0.37231,647.21739,93.00000)" font-size="100" fill="#000" xml:space="preserve">#</text>
<text transform="matrix(0.39130,0.00000,0.00000,0.37385,647.21739,138.00000)" font-size="100" fill="#000" xml:space="preserve">#</text>
<text transform="matrix(0.38072,0.00000,0.00000,0.37500,728.63855,287.62500)" font-size="100" fill="#000" xml:space="preserve">ns</text>
<text transform="matrix(0.36047,0.00000,0.00000,0.34875,1001.35814,176.11000)" font-size="100" fill="#000" xml:space="preserve">$</text>
<text transform="matrix(0.36047,0.00000,0.00000,0.34625,1001.35814,220.73000)" font-size="100" fill="#000" xml:space="preserve">$</text>
<text transform="matrix(0.36047,0.00000,0.00000,0.34375,1001.35814,265.45000)" font-size="100" fill="#000" xml:space="preserve">$</text>
<text transform="matrix(0.36047,0.00000,0.00000,0.35500,1089.40814,432.36000)" font-size="100" fill="#000" xml:space="preserve">$</text>
<text transform="matrix(0.37607,0.00000,0.00000,0.33333,1354.85079,393.80667)" font-size="100" font-style="italic" fill="#000" xml:space="preserve">a</text>
<text transform="matrix(0.37607,0.00000,0.00000,0.33125,1354.85079,438.55975)" font-size="100" font-style="italic" fill="#000" xml:space="preserve">a</text>
<text transform="matrix(0.37607,0.00000,0.00000,0.33438,1354.85079,483.48012)" font-size="100" font-style="italic" fill="#000" xml:space="preserve">a</text>
<text transform="matrix(0.37367,0.00000,0.00000,0.33646,1443.21098,534.52704)" font-size="100" font-style="italic" fill="#000" xml:space="preserve">a</text>
<text transform="matrix(0.27254,0.00000,0.00000,0.23433,59.30986,1038.23134)" font-size="100" font-weight="bold" fill="#000" xml:space="preserve">300</text>
<text transform="matrix(0.26901,0.00000,0.00000,0.23284,59.82394,1148.43433)" font-size="100" font-weight="bold" fill="#000" xml:space="preserve">250</text>
<text transform="matrix(0.26831,0.00000,0.00000,0.23284,59.82676,1258.03433)" font-size="100" font-weight="bold" fill="#000" xml:space="preserve">200</text>
<text transform="matrix(0.26884,0.00000,0.00000,0.23088,59.84928,1368.23824)" font-size="100" font-weight="bold" fill="#000" xml:space="preserve">150</text>
<text transform="matrix(0.26884,0.00000,0.00000,0.22941,59.84928,1478.74118)" font-size="100" font-weight="bold" fill="#000" xml:space="preserve">100</text>
<text transform="matrix(0.26848,0.00000,0.00000,0.23284,73.72609,1588.43433)" font-size="100" font-weight="bold" fill="#000" xml:space="preserve">50</text>
<text transform="matrix(0.28810,0.00000,0.00000,0.23134,86.24762,1698.83731)" font-size="100" font-weight="bold" fill="#000" xml:space="preserve">0</text>
<text transform="matrix(0.51667,0.00000,0.00000,0.47000,161.43333,1105.93000)" font-size="100" fill="#000" xml:space="preserve">(b)</text>
<text transform="matrix(0.00000,-0.36845,0.39556,0.00000,31.49333,1555.10535)" font-size="100" font-weight="bold" fill="#000" xml:space="preserve">IC50 (µg/ml)</text>
<text transform="matrix(0.00000,-0.36793,0.43333,0.00000,181.16667,1821.33586)" font-size="100" font-weight="bold" fill="#000" xml:space="preserve">EGCG</text>
<text transform="matrix(0.00000,-0.36875,0.42576,0.00000,269.97424,1755.93750)" font-size="100" font-weight="bold" fill="#000" xml:space="preserve">Rc</text>
<text transform="matrix(0.00000,-0.35878,0.42326,0.00000,358.81163,1815.51756)" font-size="100" font-weight="bold" fill="#000" xml:space="preserve">RcNps</text>
<text transform="matrix(0.00000,-0.36793,0.43333,0.00000,537.46667,1821.33586)" font-size="100" font-weight="bold" fill="#000" xml:space="preserve">EGCG</text>
<text transform="matrix(0.00000,-0.36875,0.42576,0.00000,626.47424,1755.93750)" font-size="100" font-weight="bold" fill="#000" xml:space="preserve">Rc</text>
<text transform="matrix(0.00000,-0.35878,0.42326,0.00000,716.31163,1815.51756)" font-size="100" font-weight="bold" fill="#000" xml:space="preserve">RcNps</text>
<text transform="matrix(0.00000,-0.36793,0.43333,0.00000,894.86667,1821.33586)" font-size="100" font-weight="bold" fill="#000" xml:space="preserve">EGCG</text>
<text transform="matrix(0.00000,-0.36875,0.42576,0.00000,982.97424,1755.93750)" font-size="100" font-weight="bold" fill="#000" xml:space="preserve">Rc</text>
<text transform="matrix(0.00000,-0.35878,0.42326,0.00000,1073.11163,1815.51756)" font-size="100" font-weight="bold" fill="#000" xml:space="preserve">RcNps</text>
<text transform="matrix(0.00000,-0.36793,0.43333,0.00000,1251.96667,1821.33586)" font-size="100" font-weight="bold" fill="#000" xml:space="preserve">EGCG</text>
<text transform="matrix(0.00000,-0.36875,0.42576,0.00000,1340.97424,1755.93750)" font-size="100" font-weight="bold" fill="#000" xml:space="preserve">Rc</text>
<text transform="matrix(0.00000,-0.35878,0.42326,0.00000,1430.91163,1815.51756)" font-size="100" font-weight="bold" fill="#000" xml:space="preserve">RcNps</text>
<text transform="matrix(0.41311,0.00000,0.00000,0.35556,154.48689,1878.43333)" font-size="100" font-weight="bold" fill="#000" xml:space="preserve">Anti-collagenase</text>
<text transform="matrix(0.41557,0.00000,0.00000,0.35143,543.78443,1878.14857)" font-size="100" font-weight="bold" fill="#000" xml:space="preserve">Anti-elastase</text>
<text transform="matrix(0.41434,0.00000,0.00000,0.36000,842.98566,1878.04000)" font-size="100" font-weight="bold" fill="#000" xml:space="preserve">Anti-hyaluronidase</text>
<text transform="matrix(0.41422,0.00000,0.00000,0.36812,1281.18578,1878.90000)" font-size="100" font-weight="bold" fill="#000" xml:space="preserve">Anti-</text>
<text transform="matrix(0.41475,0.00000,0.00000,0.35889,1237.97049,1920.56333)" font-size="100" font-weight="bold" fill="#000" xml:space="preserve">tyrosinase</text>
<text transform="matrix(0.27609,0.00000,0.00000,0.24154,606.69783,1383.00000)" font-size="100" fill="#000" xml:space="preserve">#</text>
<text transform="matrix(0.27609,0.00000,0.00000,0.23385,606.69783,1413.80000)" font-size="100" fill="#000" xml:space="preserve">#</text>
<text transform="matrix(0.27609,0.00000,0.00000,0.24000,606.69783,1444.90000)" font-size="100" fill="#000" xml:space="preserve">#</text>
<text transform="matrix(0.27609,0.00000,0.00000,0.23846,696.29783,1460.50000)" font-size="100" fill="#000" xml:space="preserve">#</text>
<text transform="matrix(0.27609,0.00000,0.00000,0.23538,696.29783,1491.40000)" font-size="100" fill="#000" xml:space="preserve">#</text>
<text transform="matrix(0.27674,0.00000,0.00000,0.19750,963.24302,1017.22000)" font-size="100" font-weight="bold" fill="#000" xml:space="preserve">$</text>
<text transform="matrix(0.27674,0.00000,0.00000,0.19750,963.24302,1048.32000)" font-size="100" font-weight="bold" fill="#000" xml:space="preserve">$</text>
<text transform="matrix(0.27674,0.00000,0.00000,0.19750,963.24302,1079.22000)" font-size="100" font-weight="bold" fill="#000" xml:space="preserve">$</text>
<text transform="matrix(0.27674,0.00000,0.00000,0.20125,1052.54302,1243.69000)" font-size="100" font-weight="bold" fill="#000" xml:space="preserve">$</text>
<text transform="matrix(0.26198,0.00000,0.00000,0.21354,1321.03702,1166.35896)" font-size="100" font-weight="bold" font-style="italic" fill="#000" xml:space="preserve">a</text>
<text transform="matrix(0.26198,0.00000,0.00000,0.21667,1321.03702,1197.47933)" font-size="100" font-weight="bold" font-style="italic" fill="#000" xml:space="preserve">a</text>
<text transform="matrix(0.26198,0.00000,0.00000,0.21771,1321.03702,1228.55279)" font-size="100" font-weight="bold" font-style="italic" fill="#000" xml:space="preserve">a</text>
<text transform="matrix(0.26198,0.00000,0.00000,0.21979,1410.53702,1317.99971)" font-size="100" font-weight="bold" font-style="italic" fill="#000" xml:space="preserve">a</text>
</svg>
</body></html>
